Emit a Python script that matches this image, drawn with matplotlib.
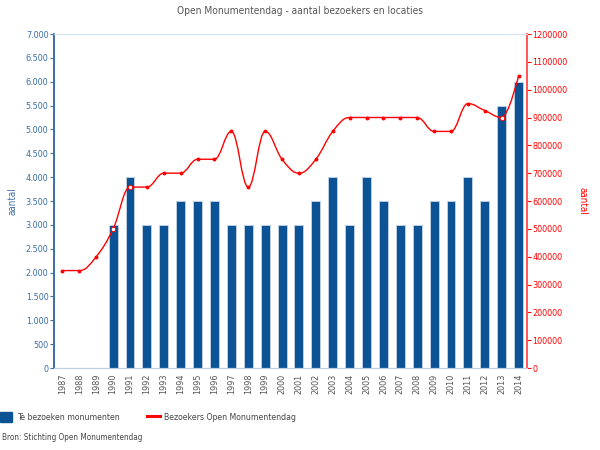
import numpy as np
import matplotlib.pyplot as plt
from matplotlib.path import Path
from matplotlib.patches import PathPatch, Patch
from matplotlib.lines import Line2D
from matplotlib.ticker import FuncFormatter, MultipleLocator

plt.rcParams['font.family'] = ['DejaVu Sans']
plt.rcParams['font.stretch'] = 'condensed'

jaren = [str(j) for j in range(1987, 2015)]
monumenten = [0, 0, 0, 3000, 4000, 3000, 3000, 3500, 3500, 3500, 3000, 3000, 3000, 3000,
              3000, 3500, 4000, 3000, 4000, 3500, 3000, 3000, 3500, 3500, 4000, 3500, 5500, 6000]
bezoekers = [350000, 350000, 400000, 500000, 650000, 650000, 700000, 700000, 750000, 750000,
             850000, 650000, 850000, 750000, 700000, 750000, 850000, 900000, 900000, 900000,
             900000, 900000, 850000, 850000, 950000, 925000, 900000, 1050000]
open_punten = [3, 4, 26]  # hollow markers in the original

BLAUW = '#0b5394'
ROOD = '#ff0000'
AS_BLAUW = '#3a6ea8'


def spline_pad(x, y, smoothing=1.5):
    # highcharts-style spline: cubic bezier through every point
    denom = smoothing + 1
    n = len(x)
    lc = [None] * n
    rc = [None] * n
    for i in range(1, n - 1):
        lx = (smoothing * x[i] + x[i - 1]) / denom
        ly = (smoothing * y[i] + y[i - 1]) / denom
        rx = (smoothing * x[i] + x[i + 1]) / denom
        ry = (smoothing * y[i] + y[i + 1]) / denom
        corr = (ry - ly) * (rx - x[i]) / (rx - lx) + y[i] - ry
        ly += corr
        ry += corr
        if ly > y[i - 1] and ly > y[i]:
            ly = max(y[i - 1], y[i]); ry = 2 * y[i] - ly
        elif ly < y[i - 1] and ly < y[i]:
            ly = min(y[i - 1], y[i]); ry = 2 * y[i] - ly
        if ry > y[i + 1] and ry > y[i]:
            ry = max(y[i + 1], y[i]); ly = 2 * y[i] - ry
        elif ry < y[i + 1] and ry < y[i]:
            ry = min(y[i + 1], y[i]); ly = 2 * y[i] - ry
        lc[i] = (lx, ly)
        rc[i] = (rx, ry)
    verts = [(x[0], y[0])]
    codes = [Path.MOVETO]
    for i in range(1, n):
        c1 = rc[i - 1] if rc[i - 1] else (x[i - 1], y[i - 1])
        c2 = lc[i] if lc[i] else (x[i], y[i])
        verts += [c1, c2, (x[i], y[i])]
        codes += [Path.CURVE4] * 3
    return Path(verts, codes)


fig = plt.figure(figsize=(6, 4.5), dpi=100)
ax = fig.add_axes([54 / 600, 1 - 368 / 450, 473 / 600, 334 / 450])
ax2 = ax.twinx()

xs = np.arange(len(jaren))
ax.bar(xs, monumenten, width=0.53, color=BLAUW, edgecolor='#c5d5e8', linewidth=0.6, zorder=2)
ax.set_xlim(-0.5, len(jaren) - 0.5)
ax.set_ylim(0, 7000)
ax.yaxis.set_major_locator(MultipleLocator(500))
ax.yaxis.set_major_formatter(FuncFormatter(lambda v, p: f'{int(v):,}'.replace(',', '.')))
ax.set_xticks(xs)
ax.set_xticklabels(jaren, rotation=90, fontsize=6.5, color='#555555')
ax.tick_params(axis='x', length=0, pad=4)
ax.tick_params(axis='y', colors=AS_BLAUW, labelsize=6.5, length=3, width=0.8, pad=1)
ax.set_ylabel('aantal', color=AS_BLAUW, fontsize=7)
ax.yaxis.set_label_coords((18 - 54) / 473, 0.5)

ax2.set_ylim(0, 1200000)
ax2.yaxis.set_major_locator(MultipleLocator(100000))
ax2.yaxis.set_major_formatter(FuncFormatter(lambda v, p: f'{int(v)}'))
ax2.tick_params(axis='y', colors=ROOD, labelsize=6.5, length=3, width=0.8, pad=1)
ax2.set_ylabel('aantal', color=ROOD, fontsize=7, rotation=270, va='center')
ax2.yaxis.set_label_coords((583 - 54) / 473, 0.5)

pad = spline_pad(list(xs.astype(float)), [float(v) for v in bezoekers])
ax2.add_patch(PathPatch(pad, facecolor='none', edgecolor=ROOD, linewidth=1.0, zorder=3))
ax2.plot(xs, bezoekers, linestyle='none', marker='o', markersize=1.8, color=ROOD, zorder=4)
ax2.plot(xs[open_punten], np.array(bezoekers)[open_punten], linestyle='none', marker='o',
         markersize=3.2, markerfacecolor='white', markeredgecolor=ROOD, markeredgewidth=0.7, zorder=5)

for a in (ax, ax2):
    a.spines['top'].set_color('#d8e4ee')
    a.spines['bottom'].set_color('#c0d0e0')
    a.spines['left'].set_color(AS_BLAUW)
    a.spines['right'].set_color('#ff5555')
    a.spines['left'].set_linewidth(1.2)
    a.spines['right'].set_linewidth(1.2)

fig.text(0.5, 1 - 11 / 450, 'Open Monumentendag - aantal bezoekers en locaties',
         ha='center', va='center', fontsize=7.3, color='#555555')

handles = [Patch(facecolor=BLAUW, edgecolor=BLAUW),
           Line2D([], [], color=ROOD, linewidth=2.2)]
fig.legend(handles, ['Te bezoeken monumenten', 'Bezoekers Open Monumentendag'],
           loc='center left', bbox_to_anchor=(0, 1 - 417 / 450), ncol=2, frameon=False,
           fontsize=6.2, handlelength=1.45, handleheight=1.45, handletextpad=0.5,
           columnspacing=3.2, borderpad=0, borderaxespad=0, labelcolor='#444444')
fig.text(2 / 600, 1 - 438 / 450, 'Bron: Stichting Open Monumentendag',
         ha='left', va='center', fontsize=5.9, color='#444444')

fig.savefig('out.png', dpi=100)
